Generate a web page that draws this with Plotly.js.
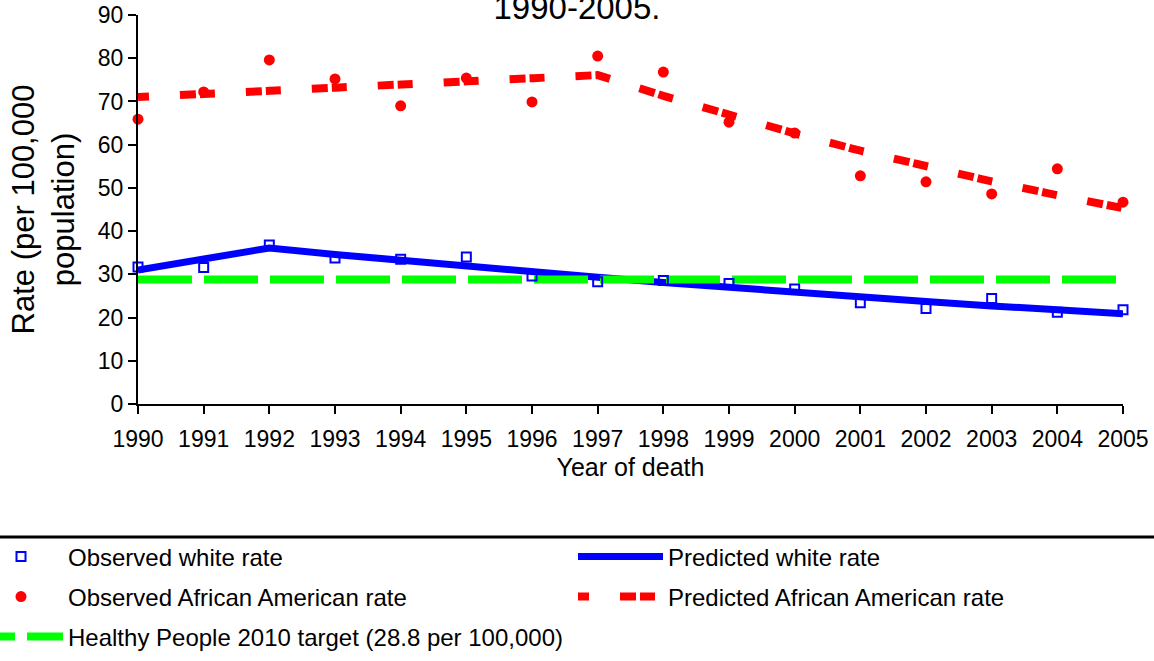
<!DOCTYPE html>
<html>
<head>
<meta charset="utf-8">
<script src="https://cdn.plot.ly/plotly-3.0.1.min.js"></script>
<style>html,body{margin:0;padding:0;background:#fff;}#chart{width:1154px;height:661px;}</style>
</head>
<body>
<div id="chart"></div>
<script>
// ---- data ----
var years = [1990, 1991, 1992, 1993, 1994, 1995, 1996, 1997, 1998, 1999, 2000, 2001, 2002, 2003, 2004, 2005];
var observedWhite = [31.7, 31.6, 36.8, 33.8, 33.5, 34.0, 29.6, 28.3, 28.6, 27.9, 26.6, 23.4, 22.1, 24.4, 21.2, 21.8];
var predictedWhite = [31.0, 33.5, 36.1, 34.6, 33.2, 31.8, 30.5, 29.3, 28.1, 26.9, 25.8, 24.7, 23.7, 22.7, 21.8, 20.9];
var observedAA = [65.9, 72.2, 79.6, 75.2, 69.0, 75.4, 69.9, 80.5, 76.8, 65.2, 62.7, 52.8, 51.4, 48.6, 54.4, 46.7];
var predictedAA = [71.0, 71.7, 72.4, 73.1, 73.9, 74.6, 75.4, 76.1, 71.3, 66.8, 62.6, 58.6, 55.0, 51.5, 48.3, 45.3];
var targetYears = [1990, 2005];
var targetValues = [28.8, 28.8];
var seriesNames = ["Observed white rate", "Predicted white rate", "Observed African American rate",
                   "Predicted African American rate", "Healthy People 2010 target (28.8 per 100,000)"];
var yTicks = [0, 10, 20, 30, 40, 50, 60, 70, 80, 90];

var FONT = "Liberation Sans, Arial, sans-serif";
var W = 1154, H = 661;
var M = {l: 138, r: 31, t: 15, b: 257, autoexpand: false};
var PW = W - M.l - M.r, PH = H - M.t - M.b;

var traces = [
  {x: years, y: predictedWhite, type: "scatter", mode: "lines", name: seriesNames[1],
   line: {color: "#0000FF", width: 7}, legend: "legend2"},
  {x: years, y: predictedAA, type: "scatter", mode: "lines", name: seriesNames[3],
   line: {color: "#FF0000", width: 8, dash: "11px,31px,16px,4px,4px,0px"}, legend: "legend4"},
  {x: targetYears, y: targetValues, type: "scatter", mode: "lines", name: seriesNames[4],
   line: {color: "#00FF00", width: 8, dash: "54px,12px"}, legend: "legend5"},
  {x: years, y: observedWhite, type: "scatter", mode: "markers", name: seriesNames[0], cliponaxis: false,
   marker: {symbol: "square-open", size: 9, color: "#0000FF", line: {color: "#0000FF", width: 2}}, legend: "legend"},
  {x: years, y: observedAA, type: "scatter", mode: "markers", name: seriesNames[2], cliponaxis: false,
   marker: {symbol: "circle", size: 11, color: "#FF0000"}, legend: "legend3"}
];

function leg(xpx, ypx, iw) {
  return {x: (xpx - M.l) / PW, y: (H - M.b - ypx) / PH, xref: "paper", yref: "paper",
          xanchor: "left", yanchor: "middle", itemwidth: iw, bgcolor: "rgba(0,0,0,0)",
          font: {family: FONT, size: 24, color: "#000"}, borderwidth: 0};
}

var layout = {
  width: W, height: H,
  margin: M,
  paper_bgcolor: "#fff", plot_bgcolor: "#fff",
  font: {family: FONT, size: 23, color: "#000"},
  title: {text: "1990-2005.", font: {family: FONT, size: 33, color: "#000"},
          x: 0.5, xref: "container", y: 1 - 19 / H, yref: "container", yanchor: "bottom"},
  showlegend: true,
  legend: leg(-26, 557, 84),
  legend2: leg(573, 557, 85),
  legend3: leg(-26, 597, 84),
  legend4: leg(573, 597, 85),
  legend5: leg(-44, 637, 102),
  xaxis: {
    range: [1990, 2005], tickmode: "array", tickvals: years, ticktext: years.map(String),
    showgrid: false, zeroline: false, showline: true, linecolor: "#000", linewidth: 2,
    ticks: "outside", ticklen: 8, tickwidth: 2, tickcolor: "#000", ticklabelstandoff: 5,
    tickfont: {family: FONT, size: 23, color: "#000"},
    title: {text: "Year of death", font: {family: FONT, size: 25, color: "#000"}, standoff: 8},
    automargin: false
  },
  yaxis: {
    range: [0, 90], tickmode: "array", tickvals: yTicks,
    showgrid: false, zeroline: false, showline: true, linecolor: "#000", linewidth: 2,
    ticks: "outside", ticklen: 8, tickwidth: 2, tickcolor: "#000",
    tickfont: {family: FONT, size: 23, color: "#000"},
    title: {text: "Rate (per 100,000<br>population)", font: {family: FONT, size: 31, color: "#000"}, standoff: 14},
    automargin: false
  },
  shapes: [
    {type: "line", xref: "paper", yref: "paper",
     x0: -M.l / PW, x1: (W - M.l) / PW,
     y0: -(537 - (H - M.b)) / PH, y1: -(537 - (H - M.b)) / PH,
     line: {color: "#000", width: 3}}
  ]
};

Plotly.newPlot("chart", traces, layout, {displayModeBar: false, staticPlot: true});
</script>
</body>
</html>
